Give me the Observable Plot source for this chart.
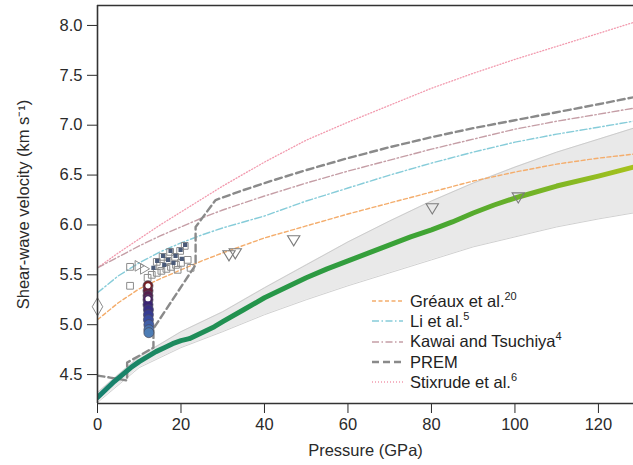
<!DOCTYPE html>
<html><head><meta charset="utf-8">
<script src="https://cdn.jsdelivr.net/npm/d3@7"></script>
<script src="https://cdn.jsdelivr.net/npm/@observablehq/plot@0.6"></script>
<style>
body{margin:0;background:#fff;font-family:"Liberation Sans",Arial,Helvetica,sans-serif;}
#wrap{position:relative;width:633px;height:465px;overflow:hidden;}
#legend{position:absolute;left:372px;top:291px;font-size:16.5px;color:#222;}
#legend .row{display:flex;align-items:center;height:20.3px;white-space:nowrap;}
#legend svg{width:31px;height:6px;margin-right:7px;overflow:visible;}
#legend sup{font-size:11px;vertical-align:7px;line-height:0;}
</style></head><body>
<div id="wrap"><div id="chart"></div><div id="legend"></div></div>
<script>
// ---------- data ----------
const xTicks = [0, 20, 40, 60, 80, 100, 120];
const yTicks = [4.5, 5.0, 5.5, 6.0, 6.5, 7.0, 7.5, 8.0];

// this study (thick green curve)
const thisP = [0,2,4,6,8,10,12,14,16,18,20,22,24,26,28,30,35,40,45,50,55,60,65,70,75,80,85,90,95,100,110,120,128.4];
const thisV = [4.27,4.35,4.43,4.50,4.57,4.63,4.68,4.73,4.77,4.81,4.84,4.86,4.90,4.94,4.98,5.03,5.15,5.27,5.37,5.47,5.56,5.64,5.72,5.80,5.88,5.95,6.03,6.12,6.20,6.27,6.39,6.49,6.58];

// uncertainty band
const bandP = [0,10,20,30,40,50,60,70,80,90,100,110,120,128.4];
const bandUpper = [4.32,4.68,4.93,5.13,5.37,5.60,5.83,6.04,6.24,6.42,6.58,6.73,6.86,6.97];
const bandLower = [4.22,4.57,4.77,4.93,5.10,5.25,5.39,5.52,5.65,5.78,5.88,5.98,6.06,6.12];

// literature curves
const gridP = [0,5,10,15,20,25,30,40,50,60,70,80,90,100,110,120,128.4];
const greaux   = [5.05,5.22,5.36,5.46,5.55,5.64,5.72,5.87,5.99,6.11,6.22,6.33,6.44,6.53,6.61,6.67,6.71];
const li       = [5.32,5.49,5.62,5.73,5.82,5.90,5.97,6.09,6.24,6.37,6.50,6.62,6.73,6.83,6.91,6.98,7.04];
const kawai    = [5.57,5.68,5.79,5.89,5.98,6.07,6.15,6.29,6.42,6.54,6.65,6.76,6.86,6.96,7.04,7.11,7.17];
const stixrude = [5.57,5.72,5.86,6.00,6.13,6.26,6.39,6.63,6.85,7.03,7.20,7.37,7.52,7.66,7.79,7.92,8.03];

const premP = [0,3,7.1,7.1,13.4,13.4,23.5,23.5,28.3,35,40,50,60,70,80,90,100,110,120,128.4];
const premV = [4.49,4.47,4.44,4.62,4.77,4.96,5.60,5.98,6.25,6.35,6.42,6.55,6.67,6.78,6.88,6.97,7.05,7.13,7.21,7.28];

// markers
const triP = [31.5,33.0,47.0,80.2,100.8];
const triV = [5.70,5.72,5.85,6.17,6.28];
const diaP = [0];
const diaV = [5.18];
const rtriP = [9.9,11.2];
const rtriV = [5.59,5.56];
const sqP = [7.8,7.8,12.0,13.0,14.2,15.3,16.5,17.6,18.8,20.0,22.3,21.6,14.2,15.6,16.8,17.4,18.6,19.8,20.9,15.0,19.2];
const sqV = [5.58,5.39,5.47,5.50,5.52,5.54,5.56,5.58,5.60,5.62,5.57,5.65,5.63,5.68,5.64,5.73,5.68,5.74,5.79,5.59,5.55];
const fsqP = [14.3,15.7,16.9,17.5,18.7,19.9,21.0,16.0,18.2,20.2,13.4];
const fsqV = [5.64,5.69,5.65,5.74,5.69,5.75,5.80,5.60,5.62,5.66,5.57];
const circP = [12.1,12.1,12.1,12.1,12.1,12.2,12.2,12.2,12.3,12.3,12.3];
const circV = [5.39,5.34,5.29,5.25,5.20,5.15,5.10,5.05,5.00,4.95,4.92];
const whiteP = [12.1,12.1];
const whiteV = [5.39,5.26];

const legendItems = [
  {name:"Gréaux et al.", ref:"20", color:"#f4ad6c", dash:"4,2.5", w:1.4},
  {name:"Li et al.", ref:"5", color:"#86ccd9", dash:"7,2.5,1.5,2.5", w:1.4},
  {name:"Kawai and Tsuchiya", ref:"4", color:"#c59ea6", dash:"7,2.5,1.5,2.5", w:1.4},
  {name:"PREM", ref:"", color:"#8a8a8a", dash:"7,4", w:2.4},
  {name:"Stixrude et al.", ref:"6", color:"#f29aae", dash:"1,2", w:1.3}
];

// ---------- build tables ----------
const zip = (xs, ys) => xs.map((p, i) => ({p, v: ys[i]}));
const band = bandP.map((p, i) => ({p, hi: bandUpper[i], lo: bandLower[i]}));
const curves = [greaux, li, kawai].map(a => zip(gridP, a));
const stix = zip(gridP, stixrude);
const prem = zip(premP, premV);
const mine = zip(thisP, thisV);

const triDown = {draw(ctx, size){const s=Math.sqrt(size);ctx.moveTo(-0.62*s,-0.42*s);ctx.lineTo(0.62*s,-0.42*s);ctx.lineTo(0,0.6*s);ctx.closePath();}};
const triRight = {draw(ctx, size){const s=Math.sqrt(size);ctx.moveTo(-0.42*s,-0.6*s);ctx.lineTo(0.6*s,0);ctx.lineTo(-0.42*s,0.6*s);ctx.closePath();}};

const lineOpt = (it) => ({x:"p", y:"v", stroke: it.color, strokeWidth: it.w, strokeDasharray: it.dash, clip: true});

const chart = Plot.plot({
  width: 633, height: 465,
  marginLeft: 97, marginRight: 0, marginTop: 5, marginBottom: 62,
  style: {fontFamily: "Liberation Sans, Arial, sans-serif", fontSize: "16.5px", color: "#2a2a2a", background: "#fff"},
  x: {domain: [0, 128.4], ticks: xTicks, tickSize: 10, tickPadding: 5, label: "Pressure (GPa)", labelAnchor: "center", labelOffset: 52, labelArrow: "none"},
  y: {domain: [4.21, 8.2], ticks: yTicks, tickSize: 10, tickPadding: 5, tickFormat: d3.format(".1f"), label: "Shear-wave velocity (km s⁻¹)", labelAnchor: "center", labelOffset: 80, labelArrow: "none"},
  color: {type: "linear", domain: [4.92, 5.08, 5.22, 5.36], range: ["#4d7db5", "#35409a", "#3c1f6c", "#6d1f30"]},
  marks: [
    Plot.areaY(band, {x:"p", y1:"lo", y2:"hi", fill:"#e9e9e9", clip: true}),
    Plot.line(band, {x:"p", y:"hi", stroke:"#c4c4c4", strokeWidth:0.8, clip: true}),
    Plot.line(band, {x:"p", y:"lo", stroke:"#c4c4c4", strokeWidth:0.8, clip: true}),
    Plot.line(stix, lineOpt(legendItems[4])),
    Plot.line(curves[2], lineOpt(legendItems[2])),
    Plot.line(curves[1], lineOpt(legendItems[1])),
    Plot.line(curves[0], lineOpt(legendItems[0])),
    Plot.line(prem, lineOpt(legendItems[3])),
    Plot.line(mine, {x:"p", y:"v", stroke:"url(#gg)", strokeWidth:5, strokeLinecap:"round", clip: true}),
    Plot.dot(zip(diaP, diaV), {x:"p", y:"v", symbol:"diamond", r:5.5, stroke:"#8a8a8a", strokeWidth:1, fill:"none"}),
    Plot.dot(zip(sqP, sqV), {x:"p", y:"v", symbol:"square", r:3.8, stroke:"#8c8c8c", strokeWidth:1, fill:"none"}),
    Plot.dot(zip(fsqP, fsqV), {x:"p", y:"v", symbol:"square", r:2.4, fill:"#4a5a78", stroke:"none"}),
    Plot.dot(zip(rtriP, rtriV), {x:"p", y:"v", symbol:triRight, r:5, stroke:"#8c8c8c", strokeWidth:1, fill:"none"}),
    Plot.dot(zip(triP, triV), {x:"p", y:"v", symbol:triDown, r:5.6, stroke:"#7c7c7c", strokeWidth:1.1, fill:"none"}),
    Plot.dot(zip(circP, circV), {x:"p", y:"v", r:5, fill:"v", stroke:"#4a4a5a", strokeWidth:0.7}),
    Plot.dot(zip(whiteP, whiteV), {x:"p", y:"v", r:2.6, fill:"#fff", stroke:"none"}),
    Plot.ruleX([0], {stroke:"#333", strokeWidth:1.6}),
    Plot.ruleY([4.21], {stroke:"#333", strokeWidth:1.6}),
    Plot.ruleY([8.2], {stroke:"#333", strokeWidth:1.6})
  ]
});

const defs = d3.select(chart).insert("defs", ":first-child");
const grad = defs.append("linearGradient").attr("id", "gg").attr("x1", "0").attr("x2", "1").attr("y1", "0").attr("y2", "0");
[["0", "#17806f"], ["0.3", "#24954a"], ["0.6", "#3ea434"], ["0.8", "#6fb228"], ["1", "#a7c21d"]]
  .forEach(([o, c]) => grad.append("stop").attr("offset", o).attr("stop-color", c));

document.getElementById("chart").appendChild(chart);

// legend (inside the plot area)
const lg = d3.select("#legend");
legendItems.forEach(it => {
  const row = lg.append("div").attr("class", "row");
  const s = row.append("svg").attr("viewBox", "0 0 31 6");
  s.append("line").attr("x1", 0).attr("x2", 31).attr("y1", 3).attr("y2", 3)
    .attr("stroke", it.color).attr("stroke-width", it.w).attr("stroke-dasharray", it.dash);
  const t = row.append("span").text(it.name);
  if (it.ref) t.append("sup").text(it.ref);
});
</script>
</body></html>
